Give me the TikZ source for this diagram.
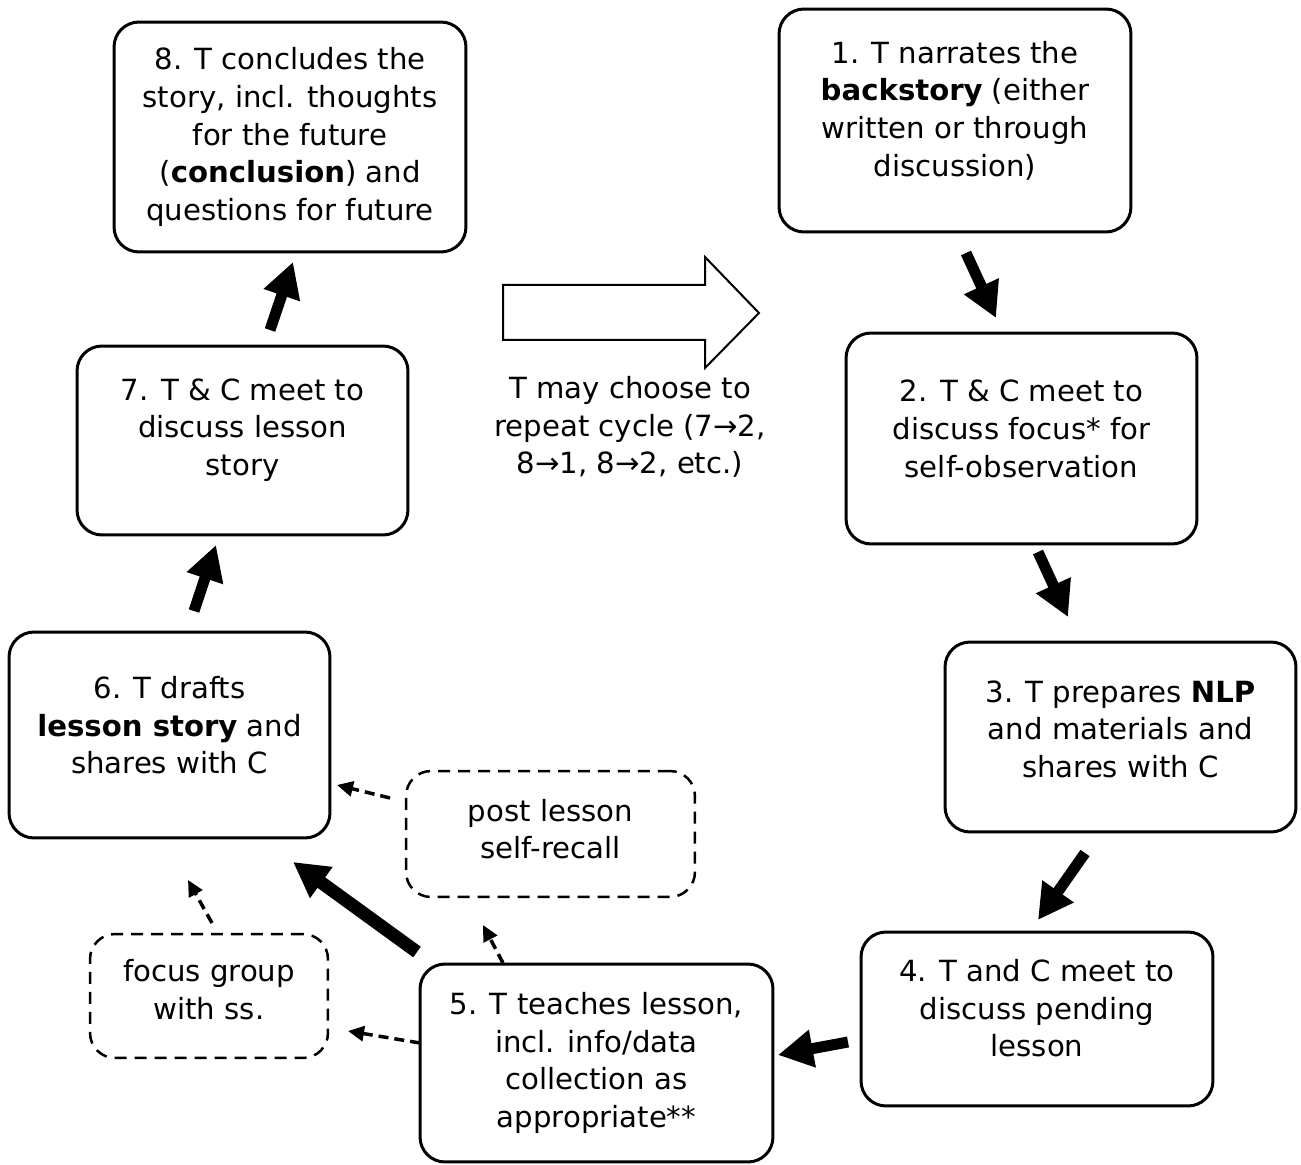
\documentclass[tikz,border=0pt]{standalone}
\usepackage{fontspec}
\setmainfont{DejaVu Sans}
\usetikzlibrary{arrows.meta}

\tikzset{
  stagebox/.style={draw,line width=0.06cm,rounded corners=0.5cm,align=center,
    font=\fontsize{16.6}{21.5}\selectfont,inner sep=0pt},
  sidebox/.style={draw,line width=0.05cm,rounded corners=0.5cm,align=center,
    dash pattern=on 0.24cm off 0.16cm,font=\fontsize{16.6}{21.5}\selectfont,inner sep=0pt},
  textup/.style={execute at end node={\rule[-#1]{0pt}{#1}}},
  bigarrow/.style={line width=0.22cm,-{Triangle[length=0.7cm,width=0.72cm]}},
  sidearrow/.style={line width=0.07cm,dash pattern=on 0.2cm off 0.12cm,
    -{Triangle[length=0.32cm,width=0.3cm]}},
}

\begin{document}
\begin{tikzpicture}[x=0.02cm,y=-0.02cm]
    \useasboundingbox (0,0) rectangle (1301,1165);
    % the eight stages
    \node[stagebox,minimum width=7.04cm,minimum height=4.6cm] (b8) at (290,137)
      {8. T concludes the\\story, incl. thoughts\\for the future\\(\textbf{conclusion}) and\\questions for future};
    \node[stagebox,textup=13.5pt,minimum width=7.04cm,minimum height=4.46cm] (b1) at (955,120.5)
      {1. T narrates the\\\textbf{backstory} (either\\written or through\\discussion)};
    \node[stagebox,textup=15.2pt,minimum width=6.62cm,minimum height=3.78cm] (b7) at (242.5,440.5)
      {7. T \& C meet to\\discuss lesson\\story};
    \node[stagebox,textup=11.3pt,minimum width=7.02cm,minimum height=4.22cm] (b2) at (1021.5,438.5)
      {2. T \& C meet to\\discuss focus* for\\self-observation};
    \node[stagebox,textup=11.3pt,minimum width=6.42cm,minimum height=4.12cm] (b6) at (169.5,735)
      {6. T drafts\\\textbf{lesson story} and\\shares with C};
    \node[stagebox,textup=9pt,minimum width=7.02cm,minimum height=3.8cm] (b3) at (1120.5,737)
      {3. T prepares \textbf{NLP}\\and materials and\\shares with C};
    \node[stagebox,textup=12.5pt,minimum width=7.04cm,minimum height=3.48cm] (b4) at (1037,1019)
      {4. T and C meet to\\discuss pending\\lesson};
    \node[stagebox,minimum width=7.06cm,minimum height=3.96cm] (b5) at (596.5,1063)
      {5. T teaches lesson,\\incl. info/data\\collection as\\appropriate**};
    % side activities
    \node[sidebox,textup=5.7pt,minimum width=5.78cm,minimum height=2.52cm] (post) at (550.5,834)
      {post lesson\\self-recall};
    \node[sidebox,textup=7.9pt,minimum width=4.76cm,minimum height=2.48cm] (focus) at (209,996)
      {focus group\\with ss.};
    % repeat the cycle
    \draw[line width=0.04cm,line join=miter] (503,285) -- (705,285) -- (705,257) -- (759,313)
      -- (705,368) -- (705,340) -- (503,340) -- cycle;
    \node[align=center,font=\fontsize{16.6}{21.5}\selectfont] (repeat) at (630,427)
      {T may choose to\\repeat cycle (7→2,\\8→1, 8→2, etc.)};
    % arrow ends
    \coordinate (s12) at (966,253);   \coordinate (e12) at (996,318);
    \coordinate (s23) at (1038,552);  \coordinate (e23) at (1068,617);
    \coordinate (s34) at (1085,853);  \coordinate (e34) at (1038,920);
    \coordinate (s45) at (848,1042);  \coordinate (e45) at (778,1055);
    \coordinate (s56) at (417,952);   \coordinate (e56) at (293,862);
    \coordinate (s67) at (194,611);   \coordinate (e67) at (216,545);
    \coordinate (s78) at (270,330);   \coordinate (e78) at (293,262);
    \draw[bigarrow] (s12) -- (e12);
    \draw[bigarrow] (s23) -- (e23);
    \draw[bigarrow] (s34) -- (e34);
    \draw[bigarrow] (s45) -- (e45);
    \draw[bigarrow,line width=0.26cm] (s56) -- (e56);
    \draw[bigarrow] (s67) -- (e67);
    \draw[bigarrow] (s78) -- (e78);
    % dashed links
    \coordinate (sp) at (503,963);   \coordinate (ep) at (483,925);
    \coordinate (sf) at (420,1043);  \coordinate (ef) at (348,1031);
    \coordinate (sp6) at (390,798);  \coordinate (ep6) at (337,785);
    \coordinate (sf6) at (212,923);  \coordinate (ef6) at (188,880);
    \draw[sidearrow] (sp) -- (ep);
    \draw[sidearrow] (sf) -- (ef);
    \draw[sidearrow] (sp6) -- (ep6);
    \draw[sidearrow] (sf6) -- (ef6);
\end{tikzpicture}
\end{document}
